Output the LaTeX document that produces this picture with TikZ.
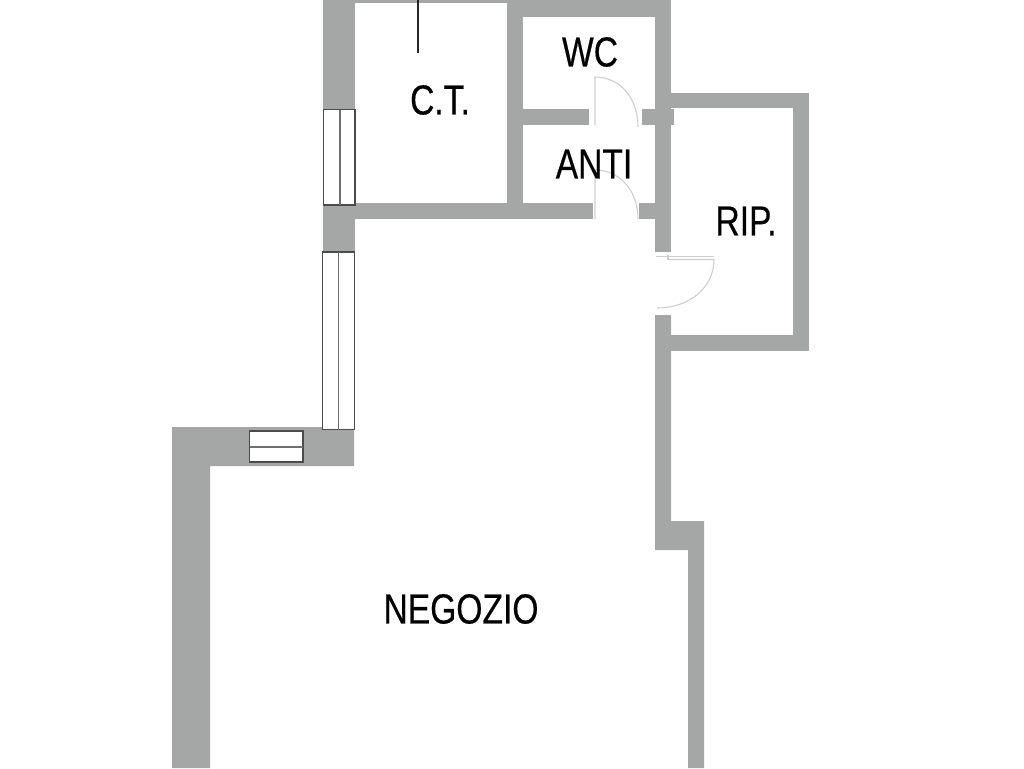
\documentclass[tikz,border=0pt]{standalone}
\usepackage{fontspec}
\setmainfont[FakeStretch=0.8,FakeBold=0.4]{Liberation Sans}
\definecolor{wallgray}{HTML}{A5A7A6}
\definecolor{doorgray}{HTML}{CDCFCE}
\definecolor{framegray}{HTML}{4A4C4C}
\tikzset{
  wall/.style={fill=wallgray,draw=none},
  win/.style={draw=framegray,line width=1.4pt,fill=white},
  winmid/.style={draw=framegray!60!wallgray,line width=1.5pt},
  door/.style={draw=doorgray,line width=1.1pt},
  room/.style={font=\fontsize{42}{42}\selectfont,text=black,inner sep=0pt,anchor=center}
}
\begin{document}
\begin{tikzpicture}[x=1pt,y=-1pt]
\useasboundingbox (0,0) rectangle (1024,768);
% walls
\fill[wall] (323,0) rectangle (355,252);
\fill[wall] (355,0) rectangle (507,3);
\fill[wall] (507,0) rectangle (671,17);
\fill[wall] (507,0) rectangle (523,219);
\fill[wall] (355,203) rectangle (593,219);
\fill[wall] (523,109) rectangle (589,125);
\fill[wall] (642,109) rectangle (674,125);
\fill[wall] (639,203) rectangle (655,219);
\fill[wall] (655,0) rectangle (671,252);
\fill[wall] (671,93) rectangle (809,108);
\fill[wall] (793,93) rectangle (809,351);
\fill[wall] (655,335) rectangle (809,351);
\fill[wall] (655,315) -- (671,315) -- (671,521) -- (704,521) -- (704,768) -- (688,768) -- (688,550) -- (655,550) -- cycle;
\fill[wall] (172,427) -- (354,427) -- (354,466) -- (210,466) -- (210,768) -- (172,768) -- cycle;
% windows
\draw[win] (323.5,109.5) rectangle (355,205);
\draw[winmid] (340,109.5) -- (340,205);
\draw[win] (322.5,252) rectangle (354.5,429.5);
\draw[winmid] (338.5,252) -- (338.5,429.5);
\draw[win] (249.5,431) rectangle (303,462);
\draw[winmid] (249.5,447) -- (303,447);
% flue line
\draw[black!85,line width=1.5pt] (418,0) -- (418,53);
% doors
\draw[door] (595,125) -- (595,77) .. controls (620,77) and (638,98) .. (638,127);
\draw[door] (595,219) -- (595,170) .. controls (620,170) and (638,191) .. (638,219);
\draw[door] (656,256.5) -- (714,256.5);
\draw[door] (668,259.5) -- (714,259.5) .. controls (714,287) and (690,308) .. (657,308);
\draw[door] (668,255) -- (668,260);
% labels
\node[room] (wc) at (590,52) {WC};
\node[room] (ct) at (440,100) {C.T.};
\node[room] (anti) at (594,164) {ANTI};
\node[room] (rip) at (746,221) {RIP.};
\node[room] (negozio) at (461,609) {NEGOZIO};
\end{tikzpicture}
\end{document}
